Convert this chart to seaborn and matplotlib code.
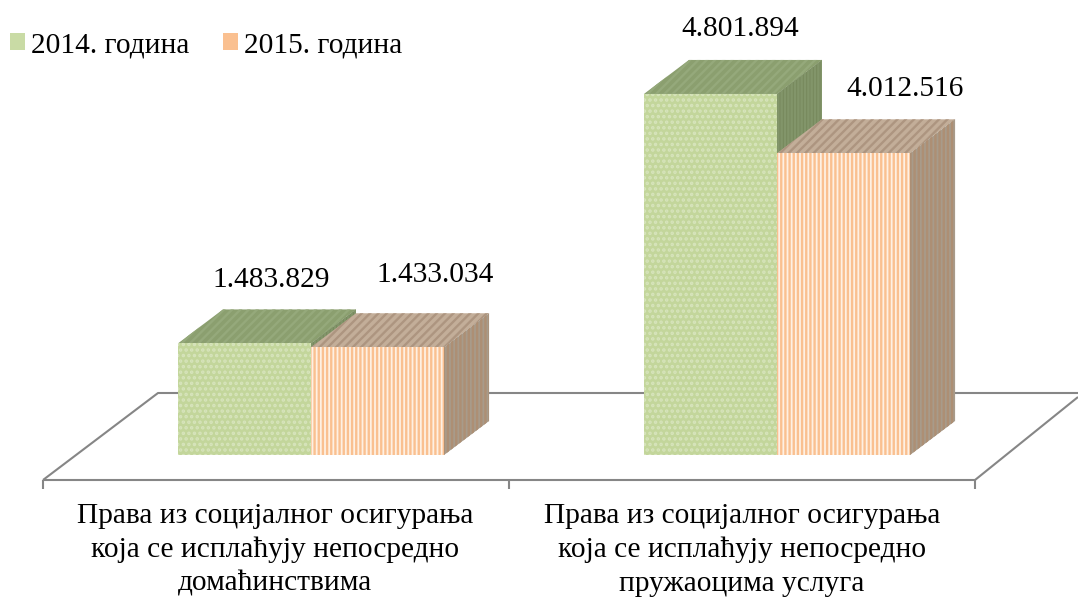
import pandas as pd
import matplotlib
matplotlib.use('Agg')
import matplotlib.pyplot as plt
from matplotlib.patches import Patch, Polygon
import seaborn as sns

# data
years = ['2014. година', '2015. година']
categories = ['Права из социјалног осигурања\nкоја се исплаћују непосредно\nдомаћинствима',
              'Права из социјалног осигурања\nкоја се исплаћују непосредно\nпружаоцима услуга']
values_2014 = [1483829, 4801894]
values_2015 = [1433034, 4012516]

W, H = 1078, 597
FONT = 'Liberation Serif'
FS = 21.2
VALUE_PER_PX = 13300
CAT_PX = 466
DEPTH_PX = (45, 34)

sns.set_theme(style='white')
plt.rcParams['font.family'] = [FONT, 'DejaVu Sans']
plt.rcParams['hatch.linewidth'] = 1.7

df = pd.DataFrame({
    'cat': categories * 2,
    'year': [years[0]] * 2 + [years[1]] * 2,
    'value': values_2014 + values_2015,
})

fig = plt.figure(figsize=(W / 100, H / 100), dpi=100)

# floor of the 3D chart, in pixel coordinates
floor = fig.add_axes([0, 0, 1, 1], zorder=0)
floor.set_xlim(0, W)
floor.set_ylim(H, 0)
floor.axis('off')
line_kw = dict(color='#868686', lw=1.5, solid_capstyle='butt')
floor.plot([43, 975], [480, 480], **line_kw)
floor.plot([43, 158, W], [480, 393, 393], **line_kw)
floor.plot([975, W], [480, 397], **line_kw)
for x in [43, 509, 975]:
    floor.plot([x, x], [480, 489], **line_kw)
for x, label in zip([275, 742], categories):
    floor.text(x, 550, label, ha='center', va='center', fontsize=FS,
               color='black', linespacing=1.38)

# bars
ax = fig.add_axes([78 / W, (H - 455) / H, 932 / W, 455 / H], zorder=1)
ax.patch.set_alpha(0)
sns.barplot(data=df, x='cat', y='value', hue='year', order=categories,
            palette=['#C3D69B', '#FDEBDA'], saturation=1, width=0.571, gap=0,
            legend=False, ax=ax)
ax.set_xlim(-0.5, 1.5)
ax.set_ylim(0, 455 * VALUE_PER_PX)
ax.axis('off')

styles = [
    dict(front='#C3D69B', front_hatch='#D7E4BC', h='...',
         top='#8B9F6F', top_hatch='#95A97B', top_h='////',
         side='#76885C', side_hatch='#82956A', side_h='|||||'),
    dict(front='#FEF0E3', front_hatch='#FAC090', h='||||',
         top='#C3AE99', top_hatch='#AD9580', top_h='////',
         side='#A89B8A', side_hatch='#AD8F74', side_h='||||'),
]
dx = DEPTH_PX[0] / CAT_PX
dy = DEPTH_PX[1] * VALUE_PER_PX

for i, (bars, st) in enumerate(zip(ax.containers, styles)):
    for bar in bars:
        x0, x1, h = bar.get_x(), bar.get_x() + bar.get_width(), bar.get_height()
        bar.set_facecolor(st['front'])
        bar.set_edgecolor(st['front_hatch'])
        bar.set_hatch(st['h'])
        bar.set_linewidth(0)
        bar.set_zorder(4 + 2 * i)
        top = Polygon([(x0, h), (x0 + dx, h + dy), (x1 + dx, h + dy), (x1, h)],
                      facecolor=st['top'], edgecolor=st['top_hatch'], hatch=st['top_h'],
                      lw=0, zorder=3 + 2 * i, clip_on=False)
        side = Polygon([(x1, h), (x1 + dx, h + dy), (x1 + dx, dy), (x1, 0)],
                       facecolor=st['side'], edgecolor=st['side_hatch'], hatch=st['side_h'],
                       lw=0, zorder=3 + 2 * i, clip_on=False)
        ax.add_patch(top)
        ax.add_patch(side)

# value labels sit up and to the right of each bar, offsets in pixels
offsets = [[(27, 63), (30, 65)], [(58, 72), (62, 64)]]
for bars, offs, vals in zip(ax.containers, offsets, [values_2014, values_2015]):
    for bar, off, val in zip(bars, offs, vals):
        ax.annotate(f'{val:,}'.replace(',', '.'),
                    (bar.get_x() + bar.get_width() / 2, bar.get_height()),
                    xytext=off, textcoords='offset pixels', ha='center', va='center',
                    fontsize=FS, color='black', annotation_clip=False, zorder=10)

handles = [Patch(facecolor='#C9DBA5', lw=0), Patch(facecolor='#FAC090', lw=0)]
ax.legend(handles, years, loc='upper left', bbox_to_anchor=(10 / W, 1 - 32 / H),
          bbox_transform=fig.transFigure, ncols=2, frameon=False, fontsize=FS,
          borderpad=0, borderaxespad=0, handlelength=0.52, handleheight=0.52,
          handletextpad=0.2, columnspacing=1.14, labelcolor='black')

fig.savefig('out.png', dpi=100)
